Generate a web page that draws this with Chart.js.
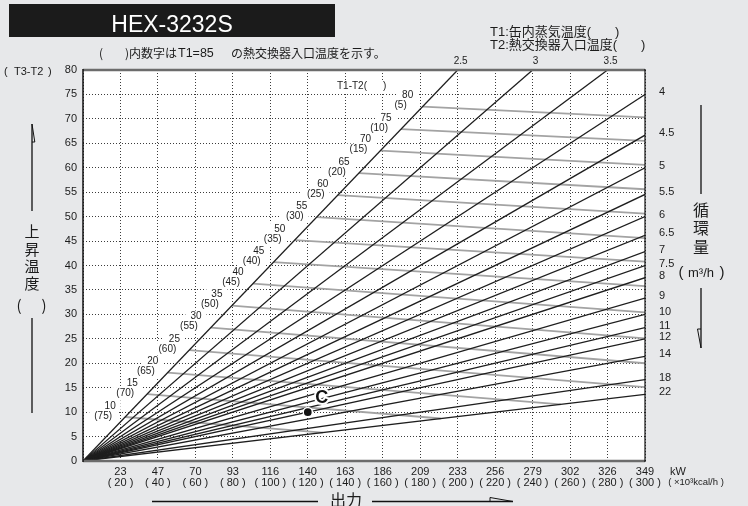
<!DOCTYPE html>
<html>
<head>
<meta charset="utf-8">
<script src="https://cdn.jsdelivr.net/npm/chart.js@4.4.1/dist/chart.umd.min.js"></script>
<style>
  html, body { margin: 0; padding: 0; background: #e7e8ea; }
  #wrap { position: relative; width: 748px; height: 506px; }
</style>
</head>
<body>
<div id="wrap"><canvas id="c" width="748" height="506"></canvas></div>
<script>
// Output axis: ×10³ kcal/h grid values and the matching kW labels
const kcalTicks = [0, 20, 40, 60, 80, 100, 120, 140, 160, 180, 200, 220, 240, 260, 280, 300];
const kwLabels  = ['', '23', '47', '70', '93', '116', '140', '163', '186', '209', '233', '256', '279', '302', '326', '349'];

// Temperature rise axis (T3-T2)
const riseMin = 0, riseMax = 80, riseStep = 5;

// Circulation flow lines (m³/h)
const flowRates = [2.5, 3, 3.5, 4, 4.5, 5, 5.5, 6, 6.5, 7, 7.5, 8, 9, 10, 11, 12, 14, 18, 22];

// T1-T2 characteristic curves and the T2 inlet temperature at T1 = 85
const t1MinusT2 = [80, 75, 70, 65, 60, 55, 50, 45, 40, 35, 30, 25, 20, 15, 10];
const t2Inlet   = [5, 10, 15, 20, 25, 30, 35, 40, 45, 50, 55, 60, 65, 70, 75];
const curveStartQ    = [181.3, 169.8, 158.8, 147.3, 136.0, 124.8, 113.0, 101.8, 90.8, 79.5, 68.3, 56.8, 45.3, 34.3, 22.5];
const curveStartRise = [72.5, 67.9, 63.5, 58.9, 54.4, 49.9, 45.2, 40.7, 36.3, 31.8, 27.3, 22.7, 18.1, 13.7, 9.0];
const curveEndQ      = [300, 300, 300, 300, 300, 300, 300, 300, 300, 300, 300, 300, 255, 191, 128];
const curveEndRise   = [70.3, 65.5, 60.6, 55.6, 50.6, 45.6, 40.8, 35.8, 30.4, 25.1, 20.0, 15.1, 11.6, 8.7, 5.8];

// Operating point C
const pointC = { q: 120, rise: 10, label: 'C' };

const LATIN = "'Liberation Sans', 'Noto Sans CJK JP', sans-serif";
const CJK = "'Noto Sans CJK JP', sans-serif";
const INK = '#1c1c1c';

// Flow line from the origin to where it leaves the plot frame
function flowEnd(f) {
  const qTop = f * riseMax;
  return qTop <= kcalTicks[kcalTicks.length - 1]
    ? { x: qTop, y: riseMax }
    : { x: kcalTicks[kcalTicks.length - 1], y: kcalTicks[kcalTicks.length - 1] / f };
}

const datasets = [];
datasets.push({
  data: [{ x: pointC.q, y: pointC.rise }],
  showLine: false, pointRadius: 4.6, pointBackgroundColor: '#111',
  pointBorderColor: '#fff', pointBorderWidth: 1.5, order: 0
});
flowRates.forEach(f => {
  datasets.push({
    data: [{ x: 0, y: 0 }, flowEnd(f)],
    showLine: true, borderColor: '#1e1e1e', borderWidth: 1.3,
    pointRadius: 0, order: 1
  });
});
t1MinusT2.forEach((d, i) => {
  datasets.push({
    data: [{ x: curveStartQ[i], y: curveStartRise[i] }, { x: curveEndQ[i], y: curveEndRise[i] }],
    showLine: true, borderColor: '#a3a3a3', borderWidth: 1.8,
    pointRadius: 0, order: 2
  });
});

const plotBackground = {
  id: 'plotBackground',
  beforeDraw(chart) {
    const { ctx, chartArea: a } = chart;
    ctx.save();
    ctx.fillStyle = '#ffffff';
    ctx.fillRect(a.left, a.top, a.right - a.left, a.bottom - a.top);
    ctx.restore();
  }
};

// Curve labels inside the plot, each on a white patch over the grid
const curveLabels = {
  id: 'curveLabels',
  beforeDatasetsDraw(chart) {
    const { ctx } = chart;
    const xs = chart.scales.x, ys = chart.scales.y;
    ctx.save();
    ctx.font = '10px ' + LATIN;
    ctx.textAlign = 'center';
    ctx.textBaseline = 'middle';
    const items = [];
    t1MinusT2.forEach((d, i) => {
      const px = xs.getPixelForValue(curveStartQ[i]);
      const py = ys.getPixelForValue(curveStartRise[i]);
      items.push({ text: String(d), x: px - 15, y: py - 11 });
      items.push({ text: '(' + t2Inlet[i] + ')', x: px - 22, y: py - 1 });
    });
    ctx.fillStyle = '#ffffff';
    items.forEach(it => {
      const w = ctx.measureText(it.text).width;
      ctx.fillRect(it.x - w / 2 - 5, it.y - 6, w + 10, 12);
    });
    // header of the curve labels
    ctx.textAlign = 'left';
    ctx.fillRect(334, 80, 54, 12);
    ctx.fillStyle = INK;
    ctx.fillText('T1-T2(', 337, 86);
    ctx.fillText(')', 383, 86);
    ctx.textAlign = 'center';
    items.forEach(it => ctx.fillText(it.text, it.x, it.y));
    ctx.restore();
  },
  afterDatasetsDraw(chart) {
    const { ctx, chartArea: a } = chart;
    const xs = chart.scales.x, ys = chart.scales.y;
    ctx.save();
    // plot frame
    ctx.lineCap = 'butt';
    ctx.strokeStyle = '#6c6c6c';
    ctx.lineWidth = 2.5;
    ctx.beginPath();
    ctx.moveTo(a.left, a.top); ctx.lineTo(a.right, a.top);
    ctx.moveTo(a.left, a.bottom); ctx.lineTo(a.right, a.bottom);
    ctx.stroke();
    ctx.strokeStyle = '#111';
    ctx.lineWidth = 1.5;
    ctx.beginPath();
    ctx.moveTo(a.left, a.top - 1); ctx.lineTo(a.left, a.bottom + 1);
    ctx.stroke();
    ctx.lineWidth = 1.2;
    ctx.beginPath();
    ctx.moveTo(a.right, a.top - 1); ctx.lineTo(a.right, a.bottom + 1);
    ctx.stroke();

    // point C label with a white halo
    const cx = xs.getPixelForValue(pointC.q) + 14;
    const cy = ys.getPixelForValue(pointC.rise) - 14;
    ctx.font = 'bold 18px ' + LATIN;
    ctx.textAlign = 'center';
    ctx.textBaseline = 'middle';
    ctx.lineWidth = 4;
    ctx.strokeStyle = '#fff';
    ctx.lineJoin = 'round';
    ctx.strokeText(pointC.label, cx, cy);
    ctx.fillStyle = '#111';
    ctx.fillText(pointC.label, cx, cy);
    ctx.restore();
  }
};

// Titles, flow-rate labels and axis annotations around the plot
const annotations = {
  id: 'annotations',
  afterDraw(chart) {
    const { ctx } = chart;
    const xs = chart.scales.x, ys = chart.scales.y;
    ctx.save();

    // model title block
    ctx.fillStyle = '#1b1b1b';
    ctx.fillRect(9, 4, 326, 33);
    ctx.fillStyle = '#ffffff';
    ctx.font = '23px ' + LATIN;
    ctx.textAlign = 'center';
    ctx.textBaseline = 'alphabetic';
    ctx.fillText('HEX-3232S', 172, 31.5);

    ctx.fillStyle = INK;
    ctx.textBaseline = 'middle';
    ctx.textAlign = 'left';

    // note line
    ctx.font = '12px ' + CJK;
    ctx.fillText('(', 99, 53.5);
    ctx.fillText(')内数字は', 125, 53.5);
    ctx.font = '12.5px ' + LATIN;
    ctx.fillText('T1=85', 178, 53.5);
    ctx.font = '12px ' + CJK;
    ctx.fillText('の熱交換器入口温度を示す。', 231, 53.5);

    // T1 / T2 legend
    ctx.font = '13px ' + LATIN;
    ctx.fillText('T1:缶内蒸気温度(', 490, 32);
    ctx.fillText(')', 615, 32);
    ctx.fillText('T2:熱交換器入口温度(', 490, 45.5);
    ctx.fillText(')', 641, 45.5);

    // y axis unit
    ctx.font = '11px ' + LATIN;
    ctx.fillText('(', 4, 71.5);
    ctx.fillText('T3-T2', 14, 71.5);
    ctx.fillText(')', 48, 71.5);

    // flow labels on top edge
    ctx.font = '10px ' + LATIN;
    ctx.textAlign = 'center';
    flowRates.forEach(f => {
      const e = flowEnd(f);
      if (e.y === riseMax) ctx.fillText(String(f), xs.getPixelForValue(e.x) + 3, 61.5);
    });
    // flow labels on right edge
    ctx.font = '11px ' + LATIN;
    ctx.textAlign = 'left';
    flowRates.forEach(f => {
      const e = flowEnd(f);
      if (e.y !== riseMax) ctx.fillText(String(f), 659, ys.getPixelForValue(e.y) - 2);
    });

    // x axis units
    ctx.textAlign = 'center';
    ctx.font = '11px ' + LATIN;
    ctx.fillText('kW', 678, 471.5);
    ctx.font = '9.5px ' + LATIN;
    ctx.fillText('( ×10³kcal/h )', 696, 482.5);

    ctx.strokeStyle = '#111';
    ctx.lineWidth = 1.3;

    // left annotation: 上昇温度 ( ) with arrow up
    ctx.beginPath();
    ctx.moveTo(32, 124); ctx.lineTo(32, 211);
    ctx.moveTo(32, 318); ctx.lineTo(32, 413);
    ctx.stroke();
    ctx.lineWidth = 1;
    ctx.beginPath();
    ctx.moveTo(32, 124); ctx.lineTo(34.8, 142); ctx.lineTo(32, 142);
    ctx.stroke();
    ctx.font = '15px ' + CJK;
    ctx.fillText('上', 32, 231.5);
    ctx.fillText('昇', 32, 249);
    ctx.fillText('温', 32, 266.5);
    ctx.fillText('度', 32, 283);
    ctx.fillText('(', 19, 305);
    ctx.fillText(')', 44, 305);

    // right annotation: 循環量 (m³/h) with arrow down
    ctx.lineWidth = 1.3;
    ctx.beginPath();
    ctx.moveTo(701, 105); ctx.lineTo(701, 194);
    ctx.moveTo(701, 288); ctx.lineTo(701, 348);
    ctx.stroke();
    ctx.lineWidth = 1;
    ctx.beginPath();
    ctx.moveTo(701, 348); ctx.lineTo(697.5, 329); ctx.lineTo(701, 329);
    ctx.stroke();
    ctx.font = '16px ' + CJK;
    ctx.fillText('循', 701, 210);
    ctx.fillText('環', 701, 228);
    ctx.fillText('量', 701, 246.5);
    ctx.font = '15px ' + LATIN;
    ctx.fillText('(', 681, 273);
    ctx.fillText(')', 722, 273);
    ctx.font = '13px ' + LATIN;
    ctx.fillText('m³/h', 701, 273);

    // bottom annotation: 出力 with arrow right
    ctx.lineWidth = 1.3;
    ctx.beginPath();
    ctx.moveTo(152, 501.5); ctx.lineTo(318, 501.5);
    ctx.moveTo(372, 501.5); ctx.lineTo(513, 501.5);
    ctx.stroke();
    ctx.lineWidth = 1;
    ctx.beginPath();
    ctx.moveTo(513, 501.5); ctx.lineTo(490, 497.5); ctx.lineTo(490, 501.5);
    ctx.stroke();
    ctx.font = '16px ' + CJK;
    ctx.fillText('出力', 346, 500);

    ctx.restore();
  }
};

new Chart(document.getElementById('c'), {
  type: 'scatter',
  data: { datasets },
  options: {
    responsive: false,
    animation: false,
    devicePixelRatio: 1,
    events: [],
    layout: { padding: { top: 70, right: 103, bottom: 0, left: 0 } },
    plugins: { legend: { display: false }, tooltip: { enabled: false } },
    scales: {
      x: {
        type: 'linear',
        min: kcalTicks[0],
        max: kcalTicks[kcalTicks.length - 1],
        afterBuildTicks: s => { s.ticks = kcalTicks.map(v => ({ value: v })); },
        afterFit: s => { s.height = 45; },
        grid: { color: '#3c3c3c', lineWidth: 1, drawTicks: false },
        border: { display: false, dash: [1, 2] },
        ticks: {
          padding: 5,
          maxRotation: 0,
          autoSkip: false,
          color: INK,
          font: { family: LATIN, size: 11, lineHeight: 1.0 },
          callback: v => {
            const i = kcalTicks.indexOf(v);
            if (i <= 0) return '';
            return [kwLabels[i], '( ' + v + ' )'];
          }
        }
      },
      y: {
        type: 'linear',
        min: riseMin,
        max: riseMax,
        afterFit: s => { s.width = 83; },
        grid: { color: '#3c3c3c', lineWidth: 1, drawTicks: false },
        border: { display: false, dash: [1, 2] },
        ticks: {
          stepSize: riseStep,
          padding: 6,
          color: INK,
          font: { family: LATIN, size: 11 }
        }
      }
    }
  },
  plugins: [plotBackground, curveLabels, annotations]
});
</script>
</body>
</html>
